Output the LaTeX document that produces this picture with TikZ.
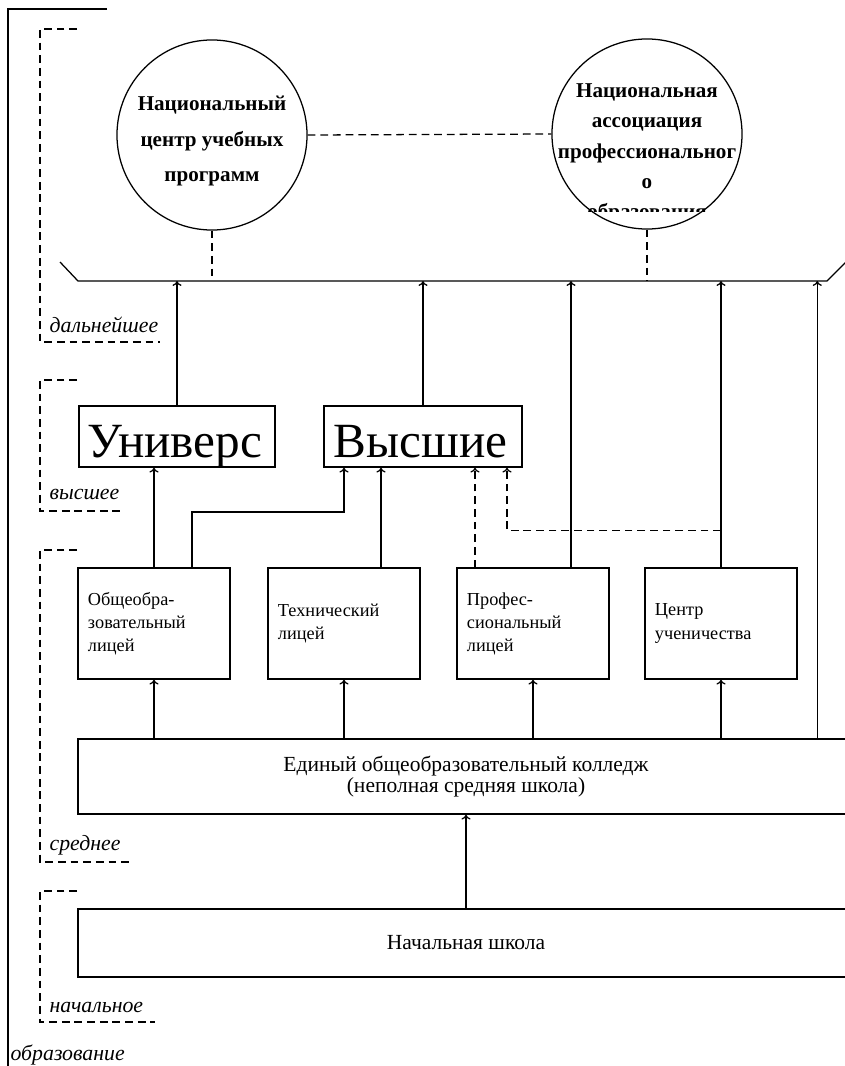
\documentclass[tikz,border=0pt]{standalone}
\usepackage{fontspec}
\setmainfont{Liberation Serif}
\usetikzlibrary{calc,arrows.meta}

\begin{document}
\begin{tikzpicture}[x=0.025cm,y=-0.025cm,line width=0.9pt,>={To[length=3.5pt,width=6.5pt]},
    box/.style={draw,rectangle,inner sep=0pt,font=\fontsize{13}{16.4}\selectfont},
    ring/.style={draw,circle,minimum size=4.75cm,inner sep=0pt},
    big/.style={inner sep=0pt,font=\fontsize{35}{35}\selectfont},
    bold/.style={inner sep=0pt,align=center,font=\fontsize{15}{25.5}\selectfont\bfseries},
    lvl/.style={dash pattern=on 5.5pt off 3.5pt},
    lbl/.style={anchor=west,inner sep=0pt,font=\fontsize{15.5}{17}\selectfont\itshape}]
  \clip (0,0) rectangle (845,1066);

  % levels
  \draw (107,9) -| (8,1070);
  \node[lbl] (obr) at (10,1055) {образование};
  \draw[lvl] (77,29) -| (40,342) -- (160,342);
  \node[lbl] (dal) at (49,325) {дальнейшее};
  \draw[lvl] (77,380) -| (40,511) -- (125,511);
  \node[lbl] (vys) at (49,494) {высшее};
  \draw[lvl] (77,550) -| (40,862) -- (132,862);
  \node[lbl] (sre) at (49,845) {среднее};
  \draw[lvl] (77,891) -| (40,1022) -- (155,1022);
  \node[lbl] (nal) at (49,1007) {начальное};

  % national bodies
  \node[ring] (nc) at (212,135) {};
  \node[ring] (na) at (647,134) {};
  \node[bold,anchor=north] (nctext) at (212,95) {Национальный\\центр учебных\\программ};
  \begin{scope}
    \clip (540,30) rectangle (760,211);
    \node[bold,anchor=north,font=\fontsize{15}{21.6}\selectfont\bfseries] (natext) at (647,83)
      {Национальная\\ассоциация\\профессиональног\\о\\образования};
  \end{scope}
  \draw[lvl] (nc.east) -- (na.west);

  % bus
  \coordinate (busL) at (78,281);
  \coordinate (busR) at (827,281);
  \draw (60,262) -- (busL) -- (busR) -- (846,262);
  \draw[lvl] (nc.south) -- (nc.south |- busL);
  \draw[lvl] (na.south) -- (na.south |- busL);

  % higher
  \node[box,minimum width=4.9cm,minimum height=1.525cm] (univ) at (177,436.5) {};
  \node[box,minimum width=4.95cm,minimum height=1.525cm] (vyssh) at (423,436.5) {};
  \begin{scope}
    \clip (univ.south west) rectangle (univ.north east);
    \node[big,anchor=base west] (univtext) at (87,457) {Универс};
  \end{scope}
  \begin{scope}
    \clip (vyssh.south west) rectangle (vyssh.north east);
    \node[big,anchor=base west] (vysshtext) at (333,457) {Высшие};
  \end{scope}

  % secondary
  \node[box,minimum width=3.8cm,minimum height=2.775cm,text width=3.3cm,align=left] (obsh) at (154,623.5)
    {Общеобра-\\зовательный\\лицей};
  \node[box,minimum width=3.8cm,minimum height=2.775cm,text width=3.3cm,align=left] (tech) at (344,623.5)
    {Технический\\лицей};
  \node[box,minimum width=3.8cm,minimum height=2.775cm,text width=3.3cm,align=left] (prof) at (533,623.5)
    {Профес-\\сиональный\\лицей};
  \node[box,minimum width=3.8cm,minimum height=2.775cm,text width=3.3cm,align=left] (centr) at (721,623.5)
    {Центр\\ученичества};
  \node[box,minimum width=19.4cm,minimum height=1.875cm,align=center,font=\fontsize{15.3}{15.5}\selectfont] (college) at (466,776.5)
    {Единый общеобразовательный колледж\\(неполная средняя школа)};

  % primary
  \node[box,minimum width=19.4cm,minimum height=1.7cm,font=\fontsize{15.3}{17}\selectfont] (nach) at (466,943) {Начальная школа};

  \coordinate (obshup) at ($(obsh.north)+(38,0)$);
  \coordinate (techup) at ($(tech.north)+(37,0)$);
  \coordinate (profdn) at ($(prof.north)+(-58,0)$);
  \coordinate (profup) at ($(prof.north)+(38,0)$);
  \coordinate (collup) at ($(college.north west)+(740,0)$);
  \coordinate (jog) at (344,512);
  \coordinate (split) at ($(centr.north)+(0,-37)$);
  \coordinate (vyssin) at ($(vyssh.south)+(84,0)$);

  \draw[->] (univ.north) -- (univ.north |- busL);
  \draw[->] (vyssh.north) -- (vyssh.north |- busL);
  \draw[->] (profup) -- (profup |- busL);
  \draw[->] (centr.north) -- (centr.north |- busL);
  \draw[->] (collup) -- (collup |- busL);

  \draw[->] (obsh.north) -- (obsh.north |- univ.south);
  \draw[->] (obshup) |- (jog) -- (jog |- vyssh.south);
  \draw[->] (techup) -- (techup |- vyssh.south);
  \draw[->,lvl] (profdn) -- (profdn |- vyssh.south);
  \draw[->,lvl] (split) -| (vyssin);

  \foreach \b in {obsh,tech,prof,centr}
    \draw[->] (\b.south |- college.north) -- (\b.south);
  \draw[->] (nach.north) -- (college.south);
\end{tikzpicture}
\end{document}
